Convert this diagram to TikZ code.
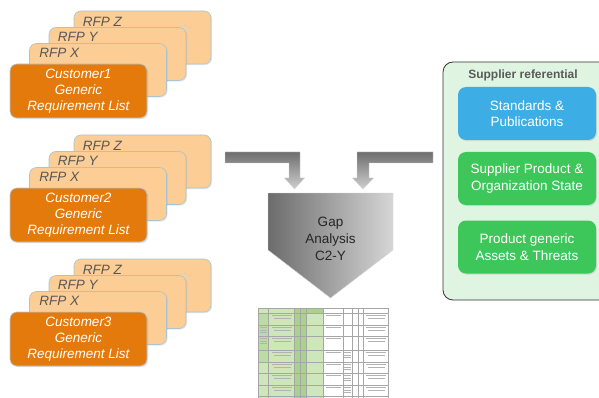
\documentclass[tikz,border=0pt]{standalone}
\usepackage{fontspec}
\setmainfont{Liberation Sans}
\usetikzlibrary{calc,shadows}
\definecolor{peach}{HTML}{FCCD94}
\definecolor{peachline}{HTML}{A6C6D4}
\definecolor{custorange}{HTML}{E47A0C}
\definecolor{custline}{HTML}{B9CBD6}
\definecolor{rfptext}{HTML}{575757}
\definecolor{panelfill}{HTML}{E0F4E2}
\definecolor{panelline}{HTML}{333333}
\definecolor{boxgreen}{HTML}{3DC75B}
\definecolor{boxblue}{HTML}{3DAEE5}
\definecolor{titlegray}{HTML}{5A5A5A}
\definecolor{arrowdark}{HTML}{6E6E6E}
\definecolor{arrowlight}{HTML}{CFCFCF}
\definecolor{gapdark}{HTML}{6C6C6C}
\definecolor{gaplight}{HTML}{D6D6D6}
\definecolor{tgreen}{HTML}{CDE6BA}
\definecolor{tgreendark}{HTML}{A9D28E}
\definecolor{tgreenmid}{HTML}{BBDDA3}
\begin{document}
\begin{tikzpicture}[x=1pt,y=-1pt,
  rfpbox/.style={draw=peachline, fill=peach, rounded corners=7pt, line width=0.6pt,
    minimum width=137pt, minimum height=53pt, inner sep=0pt,
    drop shadow={opacity=0.18, shadow xshift=1.2pt, shadow yshift=-1.2pt}},
  custbox/.style={draw=custline, fill=custorange, rounded corners=7pt, line width=0.6pt,
    minimum width=137pt, minimum height=54pt, inner sep=0pt, text=white, align=center,
    font=\fontsize{13.5}{16}\selectfont\itshape,
    drop shadow={opacity=0.22, shadow xshift=1.2pt, shadow yshift=-1.2pt}},
  rfplbl/.style={anchor=west, inner sep=0pt, text=rfptext,
    font=\fontsize{13.5}{15}\selectfont\itshape},
  refbox/.style={rounded corners=8pt, minimum width=138pt, minimum height=53pt,
    inner sep=0pt, text=white, align=center, font=\fontsize{13.5}{16.5}\selectfont,
    drop shadow={opacity=0.2, shadow xshift=1pt, shadow yshift=-1.2pt}},
  blockarrow/.style={top color=arrowdark, bottom color=arrowlight, draw=gaplight, line width=0.4pt},
  gridline/.style={draw=black!35, line width=0.3pt},
  faketext/.style={draw=black!30, line width=0.6pt}
]
\clip (0,0) rectangle (599,398);
\fill[white] (0,0) rectangle (599,398);

% ---------- three customer stacks ----------
\foreach \k in {1,2,3}{
  \pgfmathsetmacro\dy{124*(\k-1)}
  \node[rfpbox] (z\k) at (142.5, 37.5+\dy) {};
  \node[rfplbl] (zl\k) at ($(z\k.north west)+(9,11)$) {RFP Z};
  \node[rfpbox] (y\k) at (117.5, 54+\dy) {};
  \node[rfplbl] (yl\k) at ($(y\k.north west)+(9,10)$) {RFP Y};
  \node[rfpbox] (x\k) at (98, 70+\dy) {};
  \node[rfplbl] (xl\k) at ($(x\k.north west)+(10,10)$) {RFP X};
  \node[custbox] (c\k) at (78.5, 91+\dy) {Customer\k\\Generic\\Requirement List};
}

% ---------- block arrows ----------
\path[blockarrow] (225,152) -- (300,152) -- (300,178) -- (304.5,178) -- (294.5,189)
  -- (284.5,178) -- (289,178) -- (289,163) -- (225,163) -- cycle;
\path[blockarrow] (433,152) -- (357,152) -- (357,178) -- (352.5,178) -- (363,189)
  -- (373.5,178) -- (369,178) -- (369,163) -- (433,163) -- cycle;

% ---------- gap analysis pentagon ----------
\path[left color=gapdark, right color=gaplight, draw=gaplight, line width=0.4pt]
  (268,193) -- (393,193) -- (393,250) -- (330.5,298) -- (268,250) -- cycle;
\node[align=center, font=\fontsize{13.5}{17}\selectfont, text=black!85] (gap) at (330.5,239)
  {Gap\\Analysis\\C2-Y};

% ---------- spreadsheet thumbnail ----------
\fill[white] (258,308) rectangle (388,398);
\fill[tgreen] (258,308) rectangle (323,398);
\fill[tgreenmid] (258,313) rectangle (268,362);
\fill[tgreendark] (294,308) rectangle (306,398);
\fill[tgreendark] (306,308) rectangle (323,313);
\foreach \yy in {308,313,325,336,350,362,373,385,396}{
  \draw[gridline] (258,\yy) -- (388,\yy);
}
\foreach \xx in {258,268,294,300,306,323,343,352,358,363,388}{
  \draw[gridline] (\xx,308) -- (\xx,398);
}
\foreach \yy in {313,325,336,350,362,373,385}{
  \draw[faketext] (272,\yy+2.5) -- (292,\yy+2.5);
  \draw[faketext] (274,\yy+5) -- (291,\yy+5);
  \draw[faketext] (326,\yy+2.5) -- (341,\yy+2.5);
  \draw[faketext] (366,\yy+2.5) -- (386,\yy+2.5);
  \draw[faketext] (368,\yy+5) -- (385,\yy+5);
}
\foreach \yy in {325,336}{
  \draw[faketext] (259.5,\yy+2.5) -- (266.5,\yy+2.5);
  \draw[faketext] (259.5,\yy+5) -- (266.5,\yy+5);
  \draw[faketext] (259.5,\yy+7.5) -- (266.5,\yy+7.5);
}
\foreach \yy in {350,362,373,385}{
  \draw[faketext] (344,\yy+2.5) -- (351,\yy+2.5);
  \draw[faketext] (344,\yy+5) -- (351,\yy+5);
  \draw[faketext] (344,\yy+7.5) -- (351,\yy+7.5);
}

% ---------- supplier referential panel ----------
\draw[fill=panelfill, draw=panelline, line width=0.8pt, rounded corners=10pt]
  (443,62) rectangle (625,300);
\node[font=\fontsize{12}{14}\selectfont\bfseries, text=titlegray] (title) at (523,75)
  {Supplier referential};
\node[refbox, fill=boxblue] (std) at (527,113.5) {Standards \&\\Publications};
\node[refbox, fill=boxgreen] (sup) at (527,178.5) {Supplier Product \&\\Organization State};
\node[refbox, fill=boxgreen] (prod) at (527,247) {Product generic\\Assets \& Threats};
\end{tikzpicture}
\end{document}
